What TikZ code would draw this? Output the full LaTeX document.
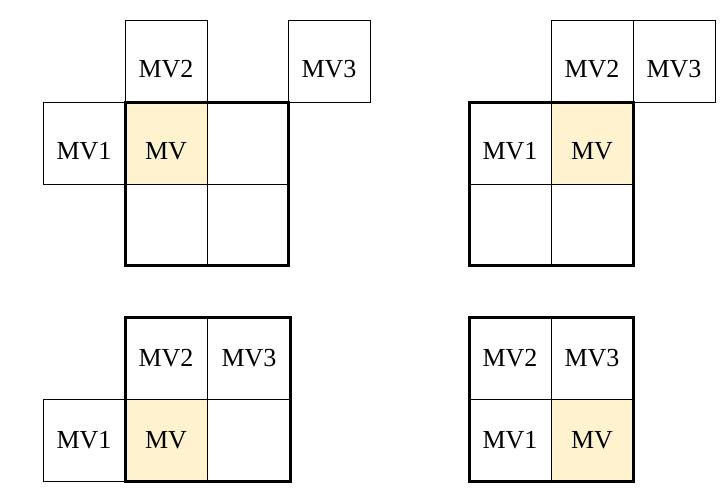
\documentclass[tikz,border=0pt]{standalone}
\usepackage{fontspec}
\setmainfont{Liberation Serif}
\definecolor{mvfill}{RGB}{255,242,206}
\begin{document}
\begin{tikzpicture}[x=1pt,y=-1pt,line width=.9pt,
  lab/.style={anchor=base,inner sep=0pt,font=\fontsize{26}{30}\selectfont},
  big/.style={line width=3pt}]
\useasboundingbox (0,0) rectangle (725,496);
% top left
\fill[mvfill] (125,102) rectangle (207,184);
\draw (125,20) rectangle (207,102) (288,20) rectangle (370,102) (43,102) rectangle (125,184);
\draw (207,102)--(207,265) (125,184)--(288,184);
\draw[big] (125,102) rectangle (288,265);
\node[lab] (a2) at (166,77) {MV2};\node[lab] (a3) at (329,77) {MV3};
\node[lab] (a1) at (84,159) {MV1};\node[lab] (a0) at (166,159) {MV};
% top right
\fill[mvfill] (551,102) rectangle (633,184);
\draw (551,20) rectangle (633,102) (633,20) rectangle (715,102);
\draw (551,102)--(551,265) (469,184)--(633,184);
\draw[big] (469,102) rectangle (633,265);
\node[lab] (b2) at (592,77) {MV2};\node[lab] (b3) at (674,77) {MV3};
\node[lab] (b1) at (510,159) {MV1};\node[lab] (b0) at (592,159) {MV};
% bottom left
\fill[mvfill] (125,399) rectangle (207,481);
\draw (43,399) rectangle (125,481);
\draw (207,317)--(207,481) (125,399)--(290,399);
\draw[big] (125,317) rectangle (290,481);
\node[lab] (c2) at (166,366) {MV2};\node[lab] (c3) at (249,366) {MV3};
\node[lab] (c1) at (84,448) {MV1};\node[lab] (c0) at (166,448) {MV};
% bottom right
\fill[mvfill] (551,399) rectangle (633,481);
\draw (551,317)--(551,481) (469,399)--(633,399);
\draw[big] (469,317) rectangle (633,481);
\node[lab] (d2) at (510,366) {MV2};\node[lab] (d3) at (592,366) {MV3};
\node[lab] (d1) at (510,448) {MV1};\node[lab] (d0) at (592,448) {MV};
\end{tikzpicture}
\end{document}
